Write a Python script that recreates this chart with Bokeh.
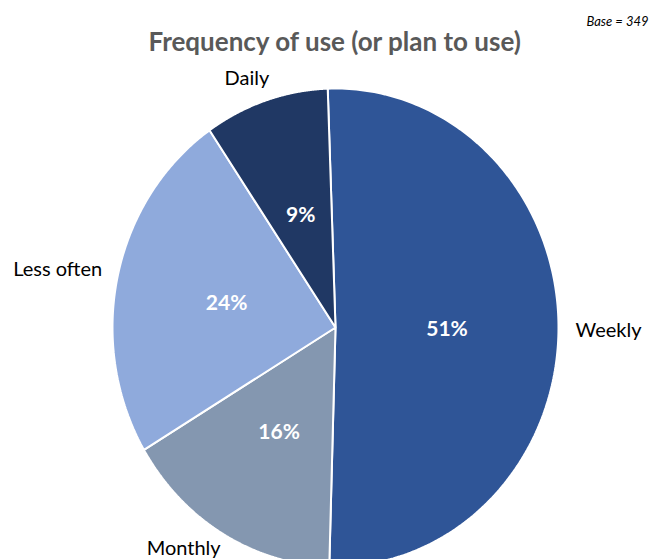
import numpy as np
from bokeh.plotting import figure
from bokeh.models import ColumnDataSource, Range1d, Label
from bokeh.core.properties import value
from bokeh.embed import file_html
from bokeh.resources import INLINE

# ---- data ----
categories = ["Weekly", "Monthly", "Less often", "Daily"]
percents = [51, 16, 24, 9]
title_text = "Frequency of use (or plan to use)"
base_text = "Base = 349"

# ---- styles ----
colors = ["#2F5597", "#8497B0", "#8FAADC", "#203864"]
W, H = 651, 559
cx_px, cy_px = 335, 327          # pie centre inside the figure (px from top-left)
rx_px, ry_px = 223, 239          # pixel size of one data unit in x / y
start_deg = -2.0                 # first slice starts just left of 12 o'clock
cat_dx = [50, -39, -60, -19]     # screen-pixel nudges for category labels
cat_dy = [2, 13, -8, -23]
FONT = "Lato"

x_range = Range1d(-cx_px / rx_px, (W - cx_px) / rx_px)
y_range = Range1d(-(H - cy_px) / ry_px, cy_px / ry_px)

p = figure(width=W, height=H, x_range=x_range, y_range=y_range,
           output_backend="svg", toolbar_location=None, min_border=0)
p.axis.visible = False
p.grid.visible = False
p.outline_line_color = None
p.background_fill_color = "white"
p.border_fill_color = "white"

total = float(sum(percents))
spans = [v / total * 360.0 for v in percents]
starts = list(start_deg + np.cumsum([0] + spans[:-1]))
ends = [s + sp for s, sp in zip(starts, spans)]
mids = [(s + e) / 2 for s, e in zip(starts, ends)]

xs, ys = [], []
for s, e in zip(starts, ends):
    th = np.radians(np.linspace(s, e, 200))
    xs.append(np.concatenate([[0.0], np.sin(th), [0.0]]))
    ys.append(np.concatenate([[0.0], np.cos(th), [0.0]]))

src = ColumnDataSource(dict(xs=xs, ys=ys, color=colors, cat=categories))
p.patches("xs", "ys", source=src, fill_color="color", line_color="white",
          line_width=2)

mr = np.radians(mids)
lab = ColumnDataSource(dict(
    px=list(0.5 * np.sin(mr)), py=list(0.5 * np.cos(mr)),
    pct=[f"{v}%" for v in percents],
    ex=list(np.sin(mr)), ey=list(np.cos(mr)),
    cat=categories, dx=cat_dx, dy=cat_dy))

p.text("px", "py", text="pct", source=lab, text_align="center",
       text_baseline="middle", text_color="white", text_font=value(FONT),
       text_font_style="bold", text_font_size="21px")
p.text("ex", "ey", text="cat", x_offset="dx", y_offset="dy", source=lab,
       text_align="center", text_baseline="middle", text_color="#000000",
       text_font=value(FONT), text_font_size="20px")

p.add_layout(Label(x=cx_px, y=H - 40, x_units="screen", y_units="screen",
                   text=title_text, text_align="center", text_baseline="middle",
                   text_font=FONT, text_font_style="bold", text_font_size="26px",
                   text_color="#595959"))
p.add_layout(Label(x=W - 3, y=H - 20, x_units="screen", y_units="screen",
                   text=base_text, text_align="right", text_baseline="middle",
                   text_font=FONT, text_font_style="italic", text_font_size="13px",
                   text_color="#000000"))

open("out.html", "w").write(file_html(p, INLINE))
